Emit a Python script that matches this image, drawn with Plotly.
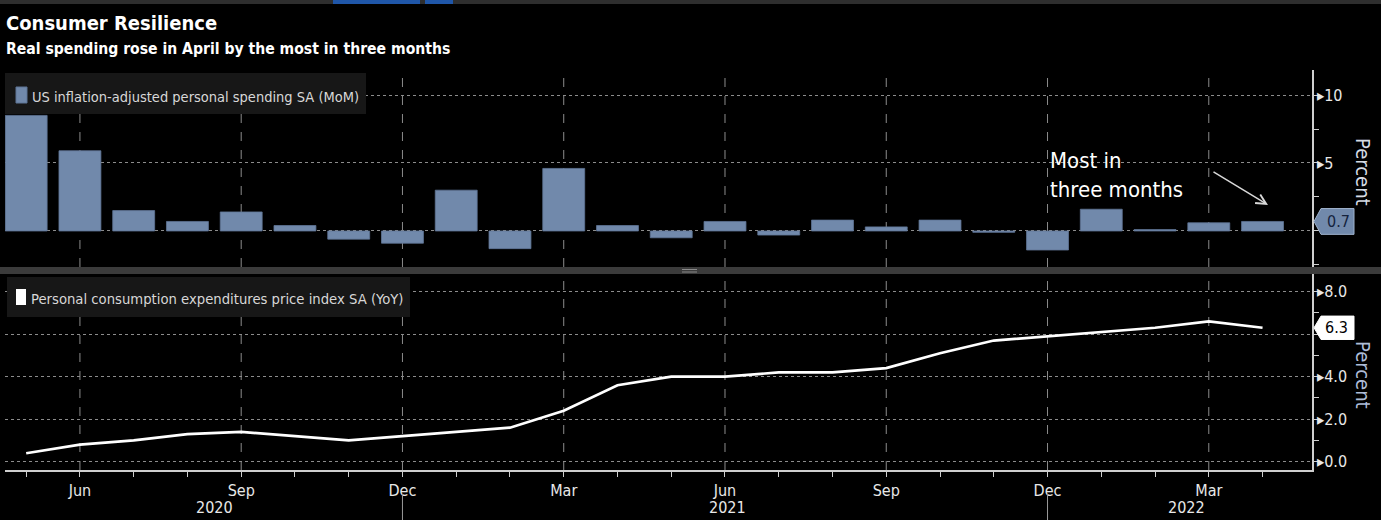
import plotly.graph_objects as go

W, H = 1381, 520

# ---------------- data ----------------
months = ["2020-05", "2020-06", "2020-07", "2020-08", "2020-09", "2020-10",
          "2020-11", "2020-12", "2021-01", "2021-02", "2021-03", "2021-04",
          "2021-05", "2021-06", "2021-07", "2021-08", "2021-09", "2021-10",
          "2021-11", "2021-12", "2022-01", "2022-02", "2022-03", "2022-04"]
spending_mom = [8.5, 5.9, 1.5, 0.7, 1.4, 0.4, -0.6, -0.9, 3.0, -1.3, 4.6, 0.4,
                -0.5, 0.7, -0.3, 0.8, 0.3, 0.8, -0.1, -1.4, 1.6, 0.1, 0.6, 0.7]
pce_yoy = [0.4, 0.8, 1.0, 1.3, 1.4, 1.2, 1.0, 1.2, 1.4, 1.6, 2.4, 3.6,
           4.0, 4.0, 4.2, 4.2, 4.4, 5.1, 5.7, 5.9, 6.1, 6.3, 6.6, 6.3]
month_abbr = {"01": "Jan", "02": "Feb", "03": "Mar", "04": "Apr", "05": "May", "06": "Jun",
              "07": "Jul", "08": "Aug", "09": "Sep", "10": "Oct", "11": "Nov", "12": "Dec"}
quarter_codes = ["03", "06", "09", "12"]
year_labels = ["2020", "2021", "2022"]
top_ticks = [0, 5, 10]
bottom_ticks = [0, 2, 4, 6, 8]

title = "Consumer Resilience"
subtitle = "Real spending rose in April by the most in three months"
name_top = "US inflation-adjusted personal spending SA (MoM)"
name_bottom = "Personal consumption expenditures price index SA (YoY)"
note = "Most in<br>three months"

# ---------------- styles ----------------
BAR = "#7189ab"
GRID = "#8c8c8c"
AXIS = "#cfcfcf"
TXT = "#e8e8e8"
NARROW = "Liberation Sans Narrow, DejaVu Sans Condensed, Roboto Condensed, Arial Narrow, sans-serif"
BOLDF = "DejaVu Sans Condensed, Liberation Sans Narrow, Verdana, sans-serif"


def px(x):
    return x / W


def py(y):
    return 1 - y / H


quarters = [m for m in months if m[5:] in quarter_codes]
tick_text = [month_abbr[m[5:]] if m in quarters else "" for m in months]
last_top = spending_mom[-1]
last_bottom = pce_yoy[-1]
year_seps = [m for m in months if m[5:] == "12"]


def y_ticktext(vals, fmt, hidden_near):
    # labels hidden behind the last-value tags are left blank
    return ["" if abs(v - hidden_near) < 0.75 * (vals[1] - vals[0]) else "\u25b8" + (fmt % v)
            for v in vals]


fig = go.Figure()
fig.add_trace(go.Bar(x=months, y=spending_mom, xaxis="x2", yaxis="y2",
                     marker=dict(color=BAR, line=dict(color="#5f7596", width=0.8)),
                     width=0.78, name=name_top, showlegend=False))
fig.add_trace(go.Scatter(x=months, y=pce_yoy, xaxis="x", yaxis="y", mode="lines",
                         line=dict(color="#ffffff", width=2.7), name=name_bottom,
                         showlegend=False))

xrange = [-0.394, 23.92]
xdom = [px(5), px(1312)]

common_y = dict(side="right", showline=True, linecolor=AXIS, linewidth=1.5,
                gridcolor=GRID, griddash="dot", gridwidth=1, zeroline=False,
                ticks="", tickfont=dict(family=NARROW, size=16, color=TXT),
                ticklabelstandoff=0, automargin=False)

fig.update_layout(
    width=W, height=H,
    margin=dict(l=0, r=0, t=0, b=0),
    paper_bgcolor="#000000", plot_bgcolor="#000000",
    xaxis=dict(domain=xdom, type="category", categoryorder="array", categoryarray=months,
               range=xrange, anchor="y", tickvals=months, ticktext=tick_text,
               ticks="outside", ticklen=5, tickcolor=AXIS, tickwidth=1,
               showline=True, linecolor=AXIS, linewidth=2, showgrid=False,
               tickfont=dict(family=NARROW, size=16, color=TXT), automargin=False),
    xaxis2=dict(domain=xdom, type="category", categoryorder="array", categoryarray=months,
                range=xrange, anchor="y2", matches="x", showticklabels=False,
                ticks="", showline=False, showgrid=False, automargin=False),
    yaxis=dict(domain=[py(470), py(274)], anchor="x", range=[-0.39, 8.83],
               tickvals=bottom_ticks, ticktext=y_ticktext(bottom_ticks, "%.1f", last_bottom),
               minor=dict(ticks="outside", ticklen=5, tickcolor=AXIS, dtick=1, tick0=0),
               **common_y),
    yaxis2=dict(domain=[py(267), py(70)], anchor="x2", range=[-2.65, 11.84],
                tickvals=top_ticks, ticktext=y_ticktext(top_ticks, "%d", last_top),
                minor=dict(ticks="outside", ticklen=5, tickcolor=AXIS, dtick=2.5, tick0=0),
                **common_y),
)

shapes = []
# quarter vertical grid lines in both panels
for m in quarters:
    for xr, yr in (("x", "y domain"), ("x2", "y2 domain")):
        shapes.append(dict(type="line", xref=xr, yref=yr, x0=m, x1=m, y0=0, y1=1,
                           line=dict(color=GRID, width=1, dash="dash"), layer="below"))
# year separators below axis
for m in year_seps:
    shapes.append(dict(type="line", xref="x", yref="paper", x0=m, x1=m, y0=py(494), y1=py(520),
                       line=dict(color="#9a9a9a", width=1)))
# panel separator band and handle
shapes.append(dict(type="rect", xref="paper", yref="paper", x0=0, x1=1, y0=py(274), y1=py(267),
                   fillcolor="#3b3b3b", line=dict(width=0)))
for yy in (269.5, 272):
    shapes.append(dict(type="line", xref="paper", yref="paper", x0=px(682), x1=px(697),
                       y0=py(yy), y1=py(yy), line=dict(color="#8a8a8a", width=1)))
# top strip
shapes.append(dict(type="rect", xref="paper", yref="paper", x0=0, x1=1, y0=py(4), y1=1,
                   fillcolor="#2e2e2e", line=dict(width=0)))
for a, b in ((333, 420), (425, 453)):
    shapes.append(dict(type="rect", xref="paper", yref="paper", x0=px(a), x1=px(b), y0=py(4), y1=1,
                       fillcolor="#1f56a8", line=dict(width=0)))
# legend boxes
shapes.append(dict(type="rect", xref="paper", yref="paper", x0=px(5), x1=px(366), y0=py(114), y1=py(73),
                   fillcolor="#171717", line=dict(width=0)))
shapes.append(dict(type="rect", xref="paper", yref="paper", x0=px(16), x1=px(27), y0=py(103), y1=py(87),
                   fillcolor=BAR, line=dict(color="#5f7596", width=1)))
shapes.append(dict(type="rect", xref="paper", yref="paper", x0=px(7), x1=px(410), y0=py(317), y1=py(277),
                   fillcolor="#171717", line=dict(width=0)))
shapes.append(dict(type="rect", xref="paper", yref="paper", x0=px(16), x1=px(26), y0=py(305), y1=py(289),
                   fillcolor="#ffffff", line=dict(width=0)))


# last value tags (pentagon pointing left)
def tag(yref, val, half, fill, edge):
    xl, xb, xr = px(1314), px(1321), px(1354)
    path = (f"M {xl},{val} L {xb},{val + half} L {xr},{val + half} "
            f"L {xr},{val - half} L {xb},{val - half} Z")
    return dict(type="path", xref="paper", yref=yref, path=path, fillcolor=fill,
                line=dict(color=edge, width=1))


shapes.append(tag("y2", last_top, 0.95, BAR, "#9fb2cc"))
shapes.append(tag("y", last_bottom, 0.55, "#ffffff", "#ffffff"))
fig.update_layout(shapes=shapes)

ann = []
ann.append(dict(text="<b>%s</b>" % title, x=px(4), y=py(23), xref="paper", yref="paper",
                xanchor="left", yanchor="middle", showarrow=False,
                font=dict(family=BOLDF, size=20, color="#ffffff")))
ann.append(dict(text="<b>%s</b>" % subtitle, x=px(4), y=py(49), xref="paper", yref="paper",
                xanchor="left", yanchor="middle", showarrow=False,
                font=dict(family=BOLDF, size=15.6, color="#ffffff")))
ann.append(dict(text=name_top, x=px(30), y=py(97), xref="paper", yref="paper",
                xanchor="left", yanchor="middle", showarrow=False,
                font=dict(family=NARROW, size=14.5, color="#d8d8d8")))
ann.append(dict(text=name_bottom, x=px(29), y=py(298), xref="paper", yref="paper",
                xanchor="left", yanchor="middle", showarrow=False,
                font=dict(family=NARROW, size=14.7, color="#d8d8d8")))
for yc, col in ((172, "#d6dbe4"), (375, "#aebdd8")):
    ann.append(dict(text="Percent", x=px(1363), y=py(yc), xref="paper", yref="paper",
                    xanchor="center", yanchor="middle", textangle=90, showarrow=False,
                    font=dict(family=NARROW, size=20, color=col)))
for i, yl in enumerate(year_labels):
    ann.append(dict(text=yl, x=px((214, 727, 1186)[i]), y=py(507), xref="paper", yref="paper",
                    xanchor="center", yanchor="middle", showarrow=False,
                    font=dict(family=NARROW, size=16, color=TXT)))
ann.append(dict(text=note, x=px(1048), y=py(146), xref="paper", yref="paper",
                xanchor="left", yanchor="top", align="left", showarrow=False,
                font=dict(family=NARROW, size=22, color="#ffffff")))
ann.append(dict(text="", x=px(1268), y=py(205), xref="paper", yref="paper",
                ax=-56, ay=-34, showarrow=True, arrowhead=5, arrowsize=1.3, arrowwidth=1.5,
                arrowcolor="#d8d8d8"))
ann.append(dict(text="%.1f" % last_top, x=px(1338), y=last_top, xref="paper", yref="y2",
                xanchor="center", yanchor="middle", showarrow=False,
                font=dict(family=NARROW, size=16, color="#15233d")))
ann.append(dict(text="%.1f" % last_bottom, x=px(1336), y=last_bottom, xref="paper", yref="y",
                xanchor="center", yanchor="middle", showarrow=False,
                font=dict(family=NARROW, size=16, color="#000000")))
fig.update_layout(annotations=ann)

fig.write_html("out.html", config={"displayModeBar": False},
               post_script="document.body.style.margin='0';document.body.style.padding='0';"
                           "document.body.style.overflow='hidden';")
